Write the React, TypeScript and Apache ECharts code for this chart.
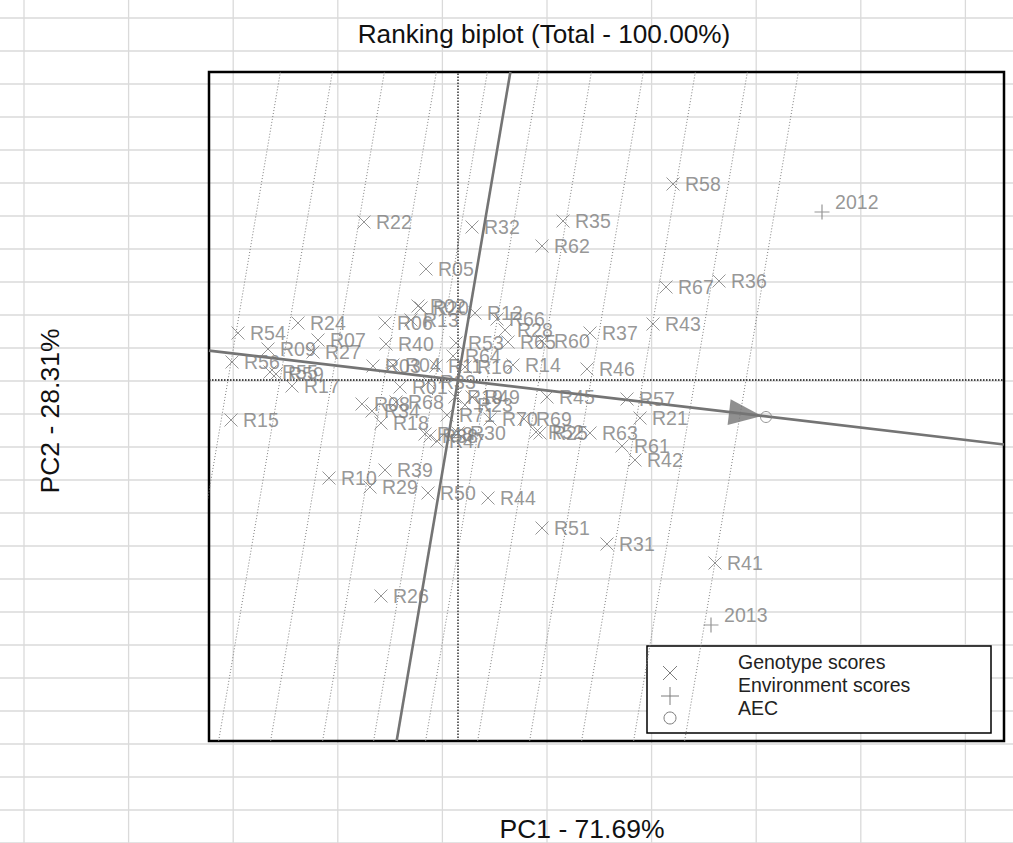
import React, { useEffect, useRef } from 'react';
import * as echarts from 'echarts';

// ---- Data (PC scores, arbitrary biplot units) ----
const genotypeNames = [
  'R01','R02','R03','R04','R05','R06','R07','R08','R09','R10',
  'R11','R12','R13','R14','R15','R16','R17','R18','R19','R20',
  'R21','R22','R23','R24','R25','R26','R27','R28','R29','R30',
  'R31','R32','R33','R34','R35','R36','R37','R38','R39','R40',
  'R41','R42','R43','R44','R45','R46','R47','R48','R49','R50',
  'R51','R52','R53','R54','R55','R56','R57','R58','R59','R60',
  'R61','R62','R63','R64','R65','R66','R67','R68','R69','R70','R71',
];
const genotypePC1 = [
  -0.58,-0.40,-0.85,-0.65,-0.32,-0.73,-1.40,-0.96,-1.90,-1.29,
  -0.22, 0.17,-0.47, 0.55,-2.27, 0.07,-1.66,-0.77,-0.03,-0.37,
   1.82,-0.94, 0.07,-1.60, 0.82,-0.77,-1.45, 0.47,-0.88, 0.00,
   1.49, 0.14,-0.30,-0.86, 1.05, 2.61, 1.32,-0.28,-0.73,-0.72,
   2.57, 1.77, 1.95, 0.30, 0.89, 1.29,-0.21,-0.33, 0.14,-0.30,
   0.84, 0.78,-0.02,-2.20,-1.88,-2.26, 1.69, 2.15,-1.82, 0.84,
   1.64, 0.84, 1.32,-0.05, 0.50, 0.39, 2.08,-0.62, 0.66, 0.32,-0.11,
];
const genotypePC2 = [
  -0.07, 0.74, 0.14, 0.15, 1.11, 0.57, 0.40,-0.24, 0.31,-0.98,
   0.14, 0.67, 0.60, 0.15,-0.40, 0.13,-0.06,-0.43,-0.17, 0.72,
  -0.38, 1.58,-0.25, 0.57,-0.53,-2.16, 0.28, 0.50,-1.07,-0.53,
  -1.64, 1.53,-0.02,-0.31, 1.59, 0.99, 0.47,-0.56,-0.90, 0.36,
  -1.83,-0.80, 0.56,-1.18,-0.17, 0.11,-0.61,-0.54,-0.17,-1.13,
  -1.48,-0.52, 0.37, 0.47, 0.08, 0.18,-0.19, 1.96, 0.06, 0.39,
  -0.66, 1.34,-0.53, 0.24, 0.38, 0.61, 0.93,-0.22,-0.39,-0.39,-0.35,
];
const environmentNames = ['2012', '2013'];
const environmentPC1 = [3.64, 2.53];
const environmentPC2 = [1.68, -2.45];
const aecPoint = [3.08, -0.37];
const aecArrowCenter = [2.875, -0.34];
const aecSlope = -0.118;      // PC2 change per PC1 unit along the AEC abscissa
const ordinateSlope = 0.17;   // PC1 change per PC2 unit along the AEC ordinate
const rankLineOffsets = [-2.30, -1.78, -1.26, -0.74, -0.23, 0.29, 0.81, 1.33, 1.85, 2.37, 2.88];
const xRange = [-2.49, 5.46];
const yRange = [-3.61, 3.08];

const titleText = 'Ranking biplot (Total - 100.00%)';
const xTitle = 'PC1 - 71.69%';
const yTitle = 'PC2 - 28.31%';
const legendItems = ['Genotype scores', 'Environment scores', 'AEC'];

const FONT = '"Liberation Sans", Arial, Helvetica, sans-serif';
const GRAY = '#7c7c7c';
const LINE_GRAY = '#747474';
const CROSS = 'path://M0,0L10,10M10,0L0,10';
const PLUS = 'path://M5,0L5,10M0,5L10,5';

function segment(name: string, pts: number[][], style: any, z = 2) {
  return {
    type: 'line', name, data: pts, showSymbol: false, symbol: 'none', silent: true,
    clip: true, z, lineStyle: style, xAxisIndex: 0, yAxisIndex: 0,
  };
}

export default function App() {
  const ref = useRef<HTMLDivElement>(null);
  useEffect(() => {
    if (!ref.current) return;
    const chart = echarts.init(ref.current, undefined, { renderer: 'svg' });

    const W = 1013, H = 843;
    const bg: any[] = [];
    for (let k = 0; k < 10; k++) {
      const x = 24 + k * 104.6;
      bg.push({ type: 'line', z: -5, silent: true, shape: { x1: x, y1: 0, x2: x, y2: H }, style: { stroke: '#dadada', lineWidth: 1.3 } });
    }
    for (let k = 0; k < 26; k++) {
      const y = 18 + k * 33;
      bg.push({ type: 'line', z: -5, silent: true, shape: { x1: 0, y1: y, x2: W, y2: y }, style: { stroke: '#dadada', lineWidth: 1.3 } });
    }

    const series: any[] = [];
    rankLineOffsets.forEach((o, i) => {
      series.push(segment('rank' + i, [[o + ordinateSlope * yRange[0], yRange[0]], [o + ordinateSlope * yRange[1], yRange[1]]],
        { color: '#7e7e7e', width: 1, type: [1, 2] }, 2));
    });
    series.push(segment('originV', [[0, yRange[0]], [0, yRange[1]]], { color: '#111', width: 1.3, type: [1.5, 1.5] }, 3));
    series.push(segment('originH', [[xRange[0], 0], [xRange[1], 0]], { color: '#111', width: 1.3, type: [1.5, 1.5] }, 3));
    series.push(segment('aec', [[xRange[0], aecSlope * xRange[0]], [xRange[1], aecSlope * xRange[1]]], { color: LINE_GRAY, width: 2.6 }, 4));
    series.push(segment('ordinate', [[ordinateSlope * yRange[0], yRange[0]], [ordinateSlope * yRange[1], yRange[1]]], { color: LINE_GRAY, width: 2.6 }, 4));

    const rot = -90 - Math.atan(-aecSlope) * 180 / Math.PI;
    series.push({
      type: 'scatter', name: 'arrow', z: 5, silent: true,
      data: [aecArrowCenter], symbol: 'triangle', symbolSize: [26, 33], symbolRotate: rot,
      itemStyle: { color: LINE_GRAY },
    });
    series.push({
      type: 'scatter', name: 'AEC', z: 5, silent: true,
      data: [aecPoint], symbol: 'circle', symbolSize: 11,
      itemStyle: { color: 'rgba(0,0,0,0)', borderColor: GRAY, borderWidth: 1 },
    });
    const labelStyle = {
      show: true, formatter: '{b}', position: 'right', distance: 5, offset: [0, -10],
      color: GRAY, fontSize: 19.5, fontFamily: FONT,
    };
    series.push({
      type: 'scatter', name: 'Genotype scores', z: 6, silent: true,
      data: genotypeNames.map((n, i) => ({ name: n, value: [genotypePC1[i], genotypePC2[i]] })),
      symbol: CROSS, symbolSize: 13,
      itemStyle: { color: 'rgba(0,0,0,0)', borderColor: GRAY, borderWidth: 1 },
      label: labelStyle,
      labelLayout: { hideOverlap: false },
    });
    series.push({
      type: 'scatter', name: 'Environment scores', z: 6, silent: true,
      data: environmentNames.map((n, i) => ({ name: n, value: [environmentPC1[i], environmentPC2[i]] })),
      symbol: PLUS, symbolSize: 15,
      itemStyle: { color: 'rgba(0,0,0,0)', borderColor: GRAY, borderWidth: 1.2 },
      label: labelStyle,
    });

    // legend (drawn box)
    const lx = 647, ly = 646, lw = 344, lh = 87;
    const symX = 670, textX = 738;
    const rowsSym = [673, 696, 718];
    const rowsText = [662, 685, 708];
    const legendGraphics: any[] = [
      { type: 'rect', z: 1, silent: true, shape: { x: lx, y: ly, width: lw, height: lh }, style: { fill: '#fff', stroke: '#000', lineWidth: 1.5 } },
      { type: 'line', z: 7, silent: true, shape: { x1: symX - 7, y1: rowsSym[0] - 7, x2: symX + 7, y2: rowsSym[0] + 7 }, style: { stroke: GRAY, lineWidth: 1 } },
      { type: 'line', z: 7, silent: true, shape: { x1: symX + 7, y1: rowsSym[0] - 7, x2: symX - 7, y2: rowsSym[0] + 7 }, style: { stroke: GRAY, lineWidth: 1 } },
      { type: 'line', z: 7, silent: true, shape: { x1: symX - 9, y1: rowsSym[1], x2: symX + 9, y2: rowsSym[1] }, style: { stroke: GRAY, lineWidth: 1 } },
      { type: 'line', z: 7, silent: true, shape: { x1: symX, y1: rowsSym[1] - 9, x2: symX, y2: rowsSym[1] + 9 }, style: { stroke: GRAY, lineWidth: 1 } },
      { type: 'circle', z: 7, silent: true, shape: { cx: symX, cy: rowsSym[2], r: 6 }, style: { fill: 'none', stroke: GRAY, lineWidth: 1 } },
    ];
    legendItems.forEach((t, i) => {
      legendGraphics.push({
        type: 'text', z: 7, silent: true, x: textX, y: rowsText[i],
        style: { text: t, fill: '#222', fontSize: 19.5, fontFamily: FONT, textAlign: 'left', textVerticalAlign: 'middle', align: 'left', verticalAlign: 'middle' },
      });
    });

    const texts: any[] = [
      { type: 'text', z: 7, silent: true, x: 544, y: 34,
        style: { text: titleText, fill: '#111', fontSize: 26.2, fontFamily: FONT, textAlign: 'center', textVerticalAlign: 'middle', align: 'center', verticalAlign: 'middle' } },
      { type: 'text', z: 7, silent: true, x: 582, y: 829,
        style: { text: xTitle, fill: '#111', fontSize: 26.5, fontFamily: FONT, textAlign: 'center', textVerticalAlign: 'middle', align: 'center', verticalAlign: 'middle' } },
      { type: 'text', z: 7, silent: true, x: 50, y: 411, rotation: Math.PI / 2,
        style: { text: yTitle, fill: '#111', fontSize: 26.5, fontFamily: FONT, textAlign: 'center', textVerticalAlign: 'middle', align: 'center', verticalAlign: 'middle' } },
    ];

    chart.setOption({
      animation: false,
      backgroundColor: '#ffffff',
      grid: {
        left: 209, top: 72, width: 795, height: 669, show: true,
        borderColor: '#000', borderWidth: 2.5, backgroundColor: 'rgba(0,0,0,0)', containLabel: false,
      },
      xAxis: {
        type: 'value', min: xRange[0], max: xRange[1],
        axisLine: { show: false }, axisTick: { show: false }, axisLabel: { show: false }, splitLine: { show: false },
      },
      yAxis: {
        type: 'value', min: yRange[0], max: yRange[1],
        axisLine: { show: false }, axisTick: { show: false }, axisLabel: { show: false }, splitLine: { show: false },
      },
      graphic: [...bg, ...legendGraphics, ...texts],
      series,
    });
    return () => chart.dispose();
  }, []);
  return <div ref={ref} style={{ position: 'absolute', left: 0, top: 0, width: 1013, height: 843 }} />;
}
